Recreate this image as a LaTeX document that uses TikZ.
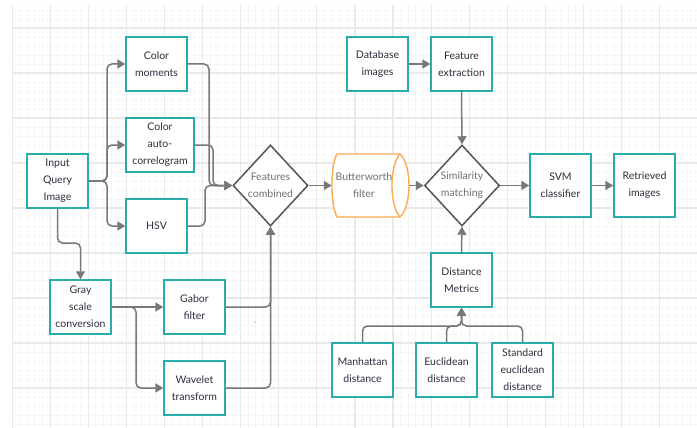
\documentclass[tikz,border=0pt]{standalone}
\usepackage{fontspec}
\setmainfont{Lato}
\usetikzlibrary{arrows.meta,shapes.geometric,calc}
\definecolor{boxc}{RGB}{38,174,172}
\definecolor{lnc}{RGB}{120,120,120}
\definecolor{dmc}{RGB}{85,85,85}
\definecolor{txt}{RGB}{45,45,60}
\definecolor{gtxt}{RGB}{112,112,112}
\definecolor{orc}{RGB}{250,172,85}
\definecolor{gmin}{RGB}{246,246,246}
\definecolor{gmaj}{RGB}{233,233,233}
\newcommand{\fs}{\fontsize{10.5}{17}\selectfont}
\tikzset{
  box/.style={draw=boxc, line width=1.4pt, fill=white, minimum width=61pt, minimum height=54pt, inner sep=0pt, align=center, text=txt, font=\fs},
  conn/.style={draw=lnc, line width=1.5pt, rounded corners=5pt, -{Triangle[length=8pt,width=9pt]}},
  dia/.style={diamond, draw=dmc, line width=1.5pt, fill=white, minimum width=75pt, minimum height=81pt, inner sep=0pt},
  gtext/.style={align=center, text=gtxt, font=\fs, inner sep=0pt},
}
\begin{document}
\begin{tikzpicture}[x=1pt,y=-1pt]
\useasboundingbox (0,0) rectangle (697,428);
\fill[white] (0,0) rectangle (697,428);
% grid
\begin{scope}
\clip (12,5) rectangle (697,428);
\foreach \i in {0,...,90} {\draw[gmin, line width=0.8pt] ({12+7.62*\i},5) -- ({12+7.62*\i},428);}
\foreach \j in {-2,...,45} {\draw[gmin, line width=0.8pt] (12,{28+9*\j}) -- (697,{28+9*\j});}
\foreach \i in {0,...,18} {\draw[gmaj, line width=1.2pt] ({12+38.1*\i},5) -- ({12+38.1*\i},428);}
\foreach \j in {0,...,9} {\draw[gmaj, line width=1.2pt] (12,{28+45*\j}) -- (697,{28+45*\j});}
\end{scope}
% nodes
\node[box] (iqi) at (57.5,181) {Input\\Query\\Image};
\node[box] (cm) at (156.5,64) {Color\\moments};
\node[box, minimum width=68pt] (cac) at (160,145) {Color\\auto-\\correlogram};
\node[box] (hsv) at (156.5,226) {HSV};
\node[box] (gsc) at (80.5,307) {Gray\\scale\\conversion};
\node[box] (gab) at (194.5,307) {Gabor\\filter};
\node[box] (wav) at (194.5,388) {Wavelet\\transform};
\node[dia] (fc) at (270.5,185.5) {};
\node[gtext] (fct) at (fc) {Features\\combined};
\node[minimum width=77pt, minimum height=63pt, inner sep=0pt] (bw) at (370.5,185.5) {};
\filldraw[draw=orc, fill=white, line width=1.4pt] (337,154) -- (400,154) .. controls (412,165) and (412,206) .. (400,217) -- (337,217) .. controls (330.3,206) and (330.3,165) .. (337,154) -- cycle;
\draw[orc, line width=1.4pt] (400,154) .. controls (389.3,165) and (389.3,206) .. (400,217);
\node[gtext] (bwt) at (364,185.5) {Butterworth\\filter};
\node[dia] (sm) at (462,185.5) {};
\node[gtext] (smt) at (sm) {Similarity\\matching};
\node[box] (db) at (377.5,64) {Database\\images};
\node[box] (fe) at (461.5,64) {Feature\\extraction};
\node[box, minimum height=63pt] (svm) at (560.5,185.5) {SVM\\classifier};
\node[box, minimum height=63pt] (ret) at (644.5,185.5) {Retrieved\\images};
\node[box] (dm) at (461.5,280) {Distance\\Metrics};
\node[box] (man) at (362.5,370) {Manhattan\\distance};
\node[box] (euc) at (446.5,370) {Euclidean\\distance};
\node[box] (std) at (522.5,370) {Standard\\euclidean\\distance};
% connectors
\coordinate (s1) at (107,181);
\draw[conn] (iqi.east) -- (s1) |- (cm.west);
\draw[conn] (iqi.east) -- (s1) |- (cac.west);
\draw[conn] (iqi.east) -- (s1) |- (hsv.west);
\draw[conn] (iqi.south) -- (57.5,243) -| (gsc.north);
\draw[conn] (cm.east) -| (209,185.5) -- (fc.west);
\draw[conn] (cac.east) -| (213,185.5) -- (fc.west);
\draw[conn] (hsv.east) -| (205,185.5) -- (fc.west);
\draw[conn] (gsc.east) -- (gab.west);
\draw[conn] (gsc.east) -| (136,388) -- (wav.west);
\draw[conn] (gab.east) -| (fc.south);
\draw[conn] (wav.east) -| (fc.south);
\draw[conn] (fc.east) -- (bw.west);
\draw[conn] (bw.east) -- (sm.west);
\draw[conn] (db.east) -- (fe.west);
\draw[conn] (fe.south) -- (sm.north);
\draw[conn] (sm.east) -- (svm.west);
\draw[conn] (svm.east) -- (ret.west);
\draw[conn] (dm.north) -- (sm.south);
\draw[conn] (man.north) |- (461.5,326) -- (dm.south);
\draw[conn] (euc.north) |- (461.5,326) -- (dm.south);
\draw[conn] (std.north) |- (461.5,326) -- (dm.south);
\fill[lnc] (255,322) circle (0.7);
\end{tikzpicture}
\end{document}
